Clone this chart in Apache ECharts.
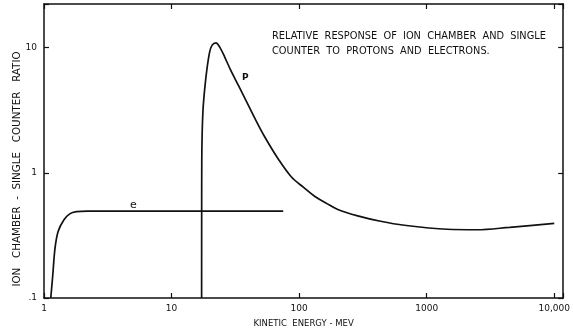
<!DOCTYPE html>
<html>
<head>
<meta charset="utf-8">
<script src="https://cdn.jsdelivr.net/npm/echarts@6/dist/echarts.min.js"></script>
<style>
html,body{margin:0;padding:0;background:#fff;}
#chart{width:573px;height:333px;}
</style>
</head>
<body>
<div id="chart"></div>
<script>
// electrons (e)
var eEnergy = [1.13, 1.17, 1.22, 1.29, 1.43, 1.59, 1.8, 2.2, 75];
var eRatio  = [0.1, 0.15, 0.25, 0.34, 0.42, 0.47, 0.49, 0.495, 0.495];

// protons (P)
var pEnergy = [17.2, 17.22, 17.25, 17.6, 18.5, 19.8, 20.8, 22.3, 23.85, 26.1, 29.0, 33.5, 38.7, 44.6, 53.4, 68.6, 86.7, 109, 133, 162, 201, 288, 435, 668, 1444, 2472, 4465, 10000];
var pRatio  = [0.1, 0.5, 1.22, 3.03, 5.53, 9.05, 10.47, 10.91, 10.09, 8.41, 6.64, 4.96, 3.71, 2.77, 1.96, 1.29, 0.93, 0.761, 0.646, 0.575, 0.51, 0.453, 0.41, 0.381, 0.354, 0.351, 0.367, 0.395];

var xTickNames = {1: '1', 10: '10', 100: '100', 1000: '1000', 10000: '10,000'};
var yTickNames = {'-1': '.1', '0': '1', '1': '10'};

function isDecade(v) {
	var l = Math.log10(v);
	return Math.abs(l - Math.round(l)) < 1e-6;
}
function pairs(xs, ys) {
	var out = [];
	for (var i = 0; i < xs.length; i++) out.push([xs[i], ys[i]]);
	return out;
}

var font = 'DejaVu Sans';
var ink = '#111';

var myChart = echarts.init(document.getElementById('chart'));
var option = {
	animation: false,
	backgroundColor: '#fff',
	grid: {left: 44, top: 4, right: 6, bottom: 32},
	xAxis: [{
		type: 'log', logBase: 10, min: 1, max: 11750,
		axisLine: {lineStyle: {color: ink, width: 1.5}},
		axisTick: {inside: true, length: 5, lineStyle: {color: ink, width: 1.2}},
		splitLine: {show: false},
		axisLabel: {
			color: ink, fontFamily: font, fontSize: 9, margin: 6,
			formatter: function (v) {
				if (!isDecade(v)) return '';
				return xTickNames[Math.round(v)] || '';
			}
		},
		name: 'KINETIC  ENERGY - MEV', nameLocation: 'middle', nameGap: 21,
		nameTextStyle: {color: ink, fontFamily: font, fontSize: 8.5}
	}, {
		type: 'log', logBase: 10, min: 1, max: 11750, position: 'top',
		axisLine: {lineStyle: {color: ink, width: 1.5}},
		axisTick: {inside: true, length: 5, lineStyle: {color: ink, width: 1.2}},
		axisLabel: {show: false},
		splitLine: {show: false}
	}],
	yAxis: [{
		type: 'log', logBase: 10, min: 0.1, max: 22.3,
		axisLine: {lineStyle: {color: ink, width: 1.5}},
		axisTick: {inside: true, length: 5, lineStyle: {color: ink, width: 1.2}},
		splitLine: {show: false},
		axisLabel: {
			color: ink, fontFamily: font, fontSize: 9, margin: 7,
			formatter: function (v) {
				if (!isDecade(v)) return '';
				return yTickNames[String(Math.round(Math.log10(v)))] || '';
			}
		}
	}, {
		type: 'log', logBase: 10, min: 0.1, max: 22.3, position: 'right',
		axisLine: {lineStyle: {color: ink, width: 1.5}},
		axisTick: {inside: true, length: 5, lineStyle: {color: ink, width: 1.2}},
		axisLabel: {show: false},
		splitLine: {show: false}
	}],
	series: [{
		name: 'e', type: 'line', data: pairs(eEnergy, eRatio),
		showSymbol: false, smooth: 0.3,
		lineStyle: {color: ink, width: 1.7}
	}, {
		name: 'P', type: 'line', data: pairs(pEnergy, pRatio),
		showSymbol: false, smooth: 0.35,
		lineStyle: {color: ink, width: 1.7}
	}],
	graphic: [{
		type: 'text', left: 272, top: 29,
		style: {text: 'RELATIVE  RESPONSE  OF  ION  CHAMBER  AND  SINGLE\nCOUNTER  TO  PROTONS  AND  ELECTRONS.',
			fill: ink, font: '9.8px "DejaVu Sans"', lineHeight: 15}
	}, {
		type: 'text', left: 130, top: 200,
		style: {text: 'e', fill: ink, font: '11px "DejaVu Sans"'}
	}, {
		type: 'text', left: 242, top: 73,
		style: {text: 'P', fill: ink, font: 'bold 9px "DejaVu Sans"'}
	}, {
		type: 'text', x: 17, y: 169, rotation: Math.PI / 2,
		style: {text: 'ION   CHAMBER  -  SINGLE   COUNTER   RATIO', fill: ink,
			font: '10.3px "DejaVu Sans"', align: 'center', verticalAlign: 'middle'}
	}]
};
myChart.setOption(option);
</script>
</body>
</html>
